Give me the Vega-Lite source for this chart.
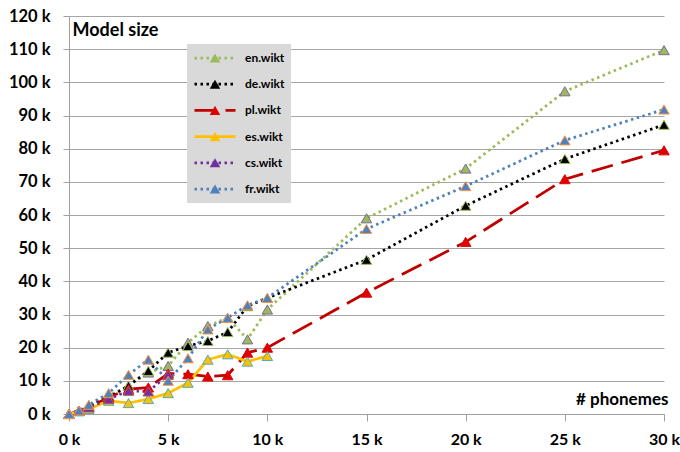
{
  "$schema": "https://vega.github.io/schema/vega-lite/v6.json",
  "width": 595,
  "height": 398,
  "autosize": "none",
  "padding": {"left": 69, "top": 16, "right": 16, "bottom": 38},
  "background": "white",
  "config": {
    "view": {"stroke": null},
    "font": "Lato"
  },
  "data": {
    "values": [
      {"edition": "en.wikt", "phonemes": 0, "size": 0},
      {"edition": "en.wikt", "phonemes": 500, "size": 1000},
      {"edition": "en.wikt", "phonemes": 1000, "size": 2500},
      {"edition": "en.wikt", "phonemes": 2000, "size": 5500},
      {"edition": "en.wikt", "phonemes": 3000, "size": 8500},
      {"edition": "en.wikt", "phonemes": 4000, "size": 12500},
      {"edition": "en.wikt", "phonemes": 5000, "size": 14500},
      {"edition": "en.wikt", "phonemes": 6000, "size": 21500},
      {"edition": "en.wikt", "phonemes": 7000, "size": 26500},
      {"edition": "en.wikt", "phonemes": 8000, "size": 29000},
      {"edition": "en.wikt", "phonemes": 9000, "size": 22500},
      {"edition": "en.wikt", "phonemes": 10000, "size": 31500},
      {"edition": "en.wikt", "phonemes": 15000, "size": 59000},
      {"edition": "en.wikt", "phonemes": 20000, "size": 74000},
      {"edition": "en.wikt", "phonemes": 25000, "size": 97300},
      {"edition": "en.wikt", "phonemes": 30000, "size": 109700},
      {"edition": "de.wikt", "phonemes": 0, "size": 0},
      {"edition": "de.wikt", "phonemes": 500, "size": 1000},
      {"edition": "de.wikt", "phonemes": 1000, "size": 2500},
      {"edition": "de.wikt", "phonemes": 2000, "size": 5000},
      {"edition": "de.wikt", "phonemes": 3000, "size": 8500},
      {"edition": "de.wikt", "phonemes": 4000, "size": 13000},
      {"edition": "de.wikt", "phonemes": 5000, "size": 18500},
      {"edition": "de.wikt", "phonemes": 6000, "size": 20500},
      {"edition": "de.wikt", "phonemes": 7000, "size": 22000},
      {"edition": "de.wikt", "phonemes": 8000, "size": 24700},
      {"edition": "de.wikt", "phonemes": 9000, "size": 32500},
      {"edition": "de.wikt", "phonemes": 10000, "size": 35000},
      {"edition": "de.wikt", "phonemes": 15000, "size": 46500},
      {"edition": "de.wikt", "phonemes": 20000, "size": 62800},
      {"edition": "de.wikt", "phonemes": 25000, "size": 76900},
      {"edition": "de.wikt", "phonemes": 30000, "size": 87200},
      {"edition": "pl.wikt", "phonemes": 0, "size": 0},
      {"edition": "pl.wikt", "phonemes": 500, "size": 1000},
      {"edition": "pl.wikt", "phonemes": 1000, "size": 2000},
      {"edition": "pl.wikt", "phonemes": 2000, "size": 5000},
      {"edition": "pl.wikt", "phonemes": 3000, "size": 7500},
      {"edition": "pl.wikt", "phonemes": 4000, "size": 8000},
      {"edition": "pl.wikt", "phonemes": 5000, "size": 12200},
      {"edition": "pl.wikt", "phonemes": 6000, "size": 12000},
      {"edition": "pl.wikt", "phonemes": 7000, "size": 11300},
      {"edition": "pl.wikt", "phonemes": 8000, "size": 11700},
      {"edition": "pl.wikt", "phonemes": 9000, "size": 18500},
      {"edition": "pl.wikt", "phonemes": 10000, "size": 20000},
      {"edition": "pl.wikt", "phonemes": 15000, "size": 36600},
      {"edition": "pl.wikt", "phonemes": 20000, "size": 51900},
      {"edition": "pl.wikt", "phonemes": 25000, "size": 70800},
      {"edition": "pl.wikt", "phonemes": 30000, "size": 79500},
      {"edition": "es.wikt", "phonemes": 0, "size": 0},
      {"edition": "es.wikt", "phonemes": 500, "size": 800},
      {"edition": "es.wikt", "phonemes": 1000, "size": 1500},
      {"edition": "es.wikt", "phonemes": 2000, "size": 4000},
      {"edition": "es.wikt", "phonemes": 3000, "size": 3300},
      {"edition": "es.wikt", "phonemes": 4000, "size": 4500},
      {"edition": "es.wikt", "phonemes": 5000, "size": 6300},
      {"edition": "es.wikt", "phonemes": 6000, "size": 9400},
      {"edition": "es.wikt", "phonemes": 7000, "size": 16400},
      {"edition": "es.wikt", "phonemes": 8000, "size": 18000},
      {"edition": "es.wikt", "phonemes": 9000, "size": 15800},
      {"edition": "es.wikt", "phonemes": 10000, "size": 17500},
      {"edition": "cs.wikt", "phonemes": 0, "size": 0},
      {"edition": "cs.wikt", "phonemes": 500, "size": 1000},
      {"edition": "cs.wikt", "phonemes": 1000, "size": 2000},
      {"edition": "cs.wikt", "phonemes": 2000, "size": 4500},
      {"edition": "cs.wikt", "phonemes": 3000, "size": 7000},
      {"edition": "cs.wikt", "phonemes": 4000, "size": 6800},
      {"edition": "cs.wikt", "phonemes": 5000, "size": 11800},
      {"edition": "fr.wikt", "phonemes": 0, "size": 0},
      {"edition": "fr.wikt", "phonemes": 500, "size": 1000},
      {"edition": "fr.wikt", "phonemes": 1000, "size": 2800},
      {"edition": "fr.wikt", "phonemes": 2000, "size": 6300},
      {"edition": "fr.wikt", "phonemes": 3000, "size": 11800},
      {"edition": "fr.wikt", "phonemes": 4000, "size": 16400},
      {"edition": "fr.wikt", "phonemes": 5000, "size": 10000},
      {"edition": "fr.wikt", "phonemes": 6000, "size": 16800},
      {"edition": "fr.wikt", "phonemes": 7000, "size": 25500},
      {"edition": "fr.wikt", "phonemes": 8000, "size": 29000},
      {"edition": "fr.wikt", "phonemes": 9000, "size": 32800},
      {"edition": "fr.wikt", "phonemes": 10000, "size": 35000},
      {"edition": "fr.wikt", "phonemes": 15000, "size": 55800},
      {"edition": "fr.wikt", "phonemes": 20000, "size": 68700},
      {"edition": "fr.wikt", "phonemes": 25000, "size": 82500},
      {"edition": "fr.wikt", "phonemes": 30000, "size": 91800}
    ]
  },
  "encoding": {
    "x": {
      "field": "phonemes",
      "type": "quantitative",
      "scale": {"domain": [0, 30000], "nice": false, "zero": true},
      "axis": {
        "values": [0, 5000, 10000, 15000, 20000, 25000, 30000],
        "labelExpr": "datum.value / 1000 + ' k'",
        "labelFlush": false,
        "labelOverlap": false,
        "grid": false,
        "domainColor": "#a0a0a0",
        "tickColor": "#a0a0a0",
        "tickSize": 7,
        "labelPadding": 10,
        "labelFont": "Lato",
        "labelFontWeight": "bold",
        "labelFontSize": 16,
        "labelColor": "black",
        "title": "# phonemes",
        "titleAngle": 0,
        "titleAlign": "right",
        "titleBaseline": "middle",
        "titleX": 599,
        "titleY": -15,
        "titleFont": "Lato",
        "titleFontWeight": "bold",
        "titleFontSize": 17,
        "titleColor": "black"
      }
    },
    "y": {
      "field": "size",
      "type": "quantitative",
      "scale": {"domain": [0, 120000], "nice": false},
      "axis": {
        "values": [0, 10000, 20000, 30000, 40000, 50000, 60000, 70000, 80000, 90000, 100000, 110000, 120000],
        "labelExpr": "datum.value / 1000 + ' k'",
        "labelFlush": false,
        "labelOverlap": false,
        "grid": true,
        "gridColor": "#a6a6a6",
        "gridWidth": 1,
        "domainColor": "#a0a0a0",
        "tickColor": "#a0a0a0",
        "tickSize": 6,
        "labelPadding": 13,
        "labelFont": "Lato",
        "labelFontWeight": "bold",
        "labelFontSize": 16.5,
        "labelColor": "black",
        "title": "Model size",
        "titleAngle": 0,
        "titleAlign": "left",
        "titleBaseline": "middle",
        "titleX": 3,
        "titleY": 14,
        "titleFont": "Lato",
        "titleFontWeight": "bold",
        "titleFontSize": 18,
        "titleColor": "black"
      }
    }
  },
  "layer": [
    {
      "mark": {"type": "line", "strokeWidth": 2.75},
      "encoding": {
        "color": {
          "field": "edition",
          "type": "nominal",
          "scale": {
            "domain": ["en.wikt", "de.wikt", "pl.wikt", "es.wikt", "cs.wikt", "fr.wikt"],
            "range": ["#9bbb59", "#000000", "#c00000", "#ffc000", "#7030a0", "#4f81bd"]
          },
          "legend": {
            "orient": "none",
            "legendX": 118,
            "legendY": 28,
            "title": null,
            "symbolType": "stroke",
            "symbolSize": 1681,
            "symbolStrokeWidth": 2.75,
            "clipHeight": 16,
            "labelFont": "Lato",
            "labelFontWeight": "bold",
            "labelFontSize": 12,
            "labelColor": "black",
            "labelOffset": 8,
            "fillColor": "#d9d9d9",
            "padding": 6,
            "rowPadding": 10.2,
            "zindex": 0
          }
        },
        "strokeDash": {
          "field": "edition",
          "type": "nominal",
          "scale": {
            "domain": ["en.wikt", "de.wikt", "pl.wikt", "es.wikt", "cs.wikt", "fr.wikt"],
            "range": [[2.5, 3.5], [2.5, 3.5], [22, 9], [1, 0], [2.5, 3.5], [2.5, 3.5]]
          },
          "legend": null
        }
      }
    },
    {
      "mark": {"type": "point", "shape": "triangle-up", "filled": true, "size": 110, "strokeWidth": 1, "opacity": 1},
      "encoding": {
        "fill": {
          "field": "edition",
          "type": "nominal",
          "sort": ["en.wikt", "de.wikt", "pl.wikt", "es.wikt", "cs.wikt", "fr.wikt"],
          "scale": {"range": ["#9bbb59", "#000000", "#e00000", "#ffc000", "#7030a0", "#4f81bd"]},
          "legend": {
            "orient": "none",
            "legendX": 134,
            "legendY": 28,
            "title": null,
            "symbolType": "triangle-up",
            "symbolSize": 110,
            "symbolStrokeWidth": 1,
            "clipHeight": 16,
            "labelExpr": "''",
            "labelFont": "Lato",
            "labelFontWeight": "bold",
            "labelFontSize": 12,
            "padding": 6,
            "rowPadding": 10.2,
            "zindex": 1
          }
        },
        "stroke": {
          "field": "edition",
          "type": "nominal",
          "sort": ["en.wikt", "de.wikt", "pl.wikt", "es.wikt", "cs.wikt", "fr.wikt"],
          "scale": {"range": ["#8064a2", "#9bbb59", "#e00000", "#4bacc6", "#c0504d", "#f79646"]},
          "legend": null
        }
      }
    }
  ]
}
